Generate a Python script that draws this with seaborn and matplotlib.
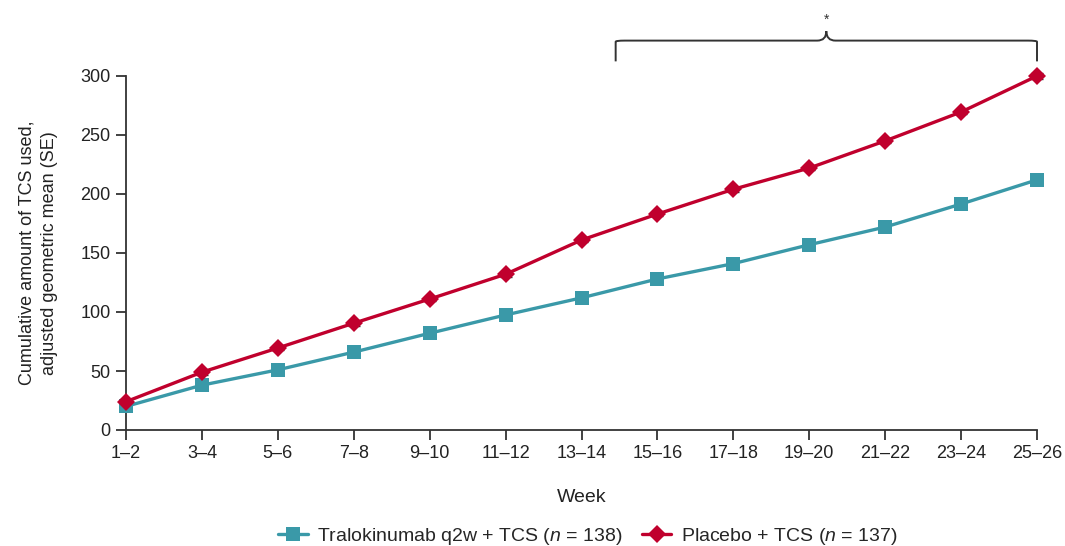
import matplotlib
matplotlib.use("Agg")
import matplotlib.pyplot as plt
import seaborn as sns
import pandas as pd
import numpy as np
from matplotlib.path import Path
from matplotlib.patches import PathPatch

weeks = ["1–2", "3–4", "5–6", "7–8", "9–10", "11–12", "13–14",
         "15–16", "17–18", "19–20", "21–22", "23–24", "25–26"]
tralo = [20, 38, 51, 66, 82, 97.5, 112, 128, 141, 157, 172, 191.5, 212]
placebo = [24, 49, 69.5, 90.5, 111, 132, 161, 183, 204, 222, 245, 269.5, 300]
tralo_se = [2, 2, 2, 2, 2, 2, 2, 2, 2, 2, 2, 2, 2.5]
placebo_se = [2, 2, 2, 2, 2, 2, 2, 2, 2, 2, 2, 2, 2.5]
yticks = [0, 50, 100, 150, 200, 250, 300]

sns.set_theme(style="ticks")
plt.rcParams['font.family'] = ['Liberation Sans', 'DejaVu Sans']
plt.rcParams['mathtext.fontset'] = 'custom'
plt.rcParams['mathtext.it'] = 'Liberation Sans:italic'
plt.rcParams['mathtext.rm'] = 'Liberation Sans'

teal = "#3a99a8"
red = "#c0002d"
txt = "#222222"

fig = plt.figure(figsize=(10.65, 5.46), dpi=100)
ax = fig.add_axes([126/1065, 1-430/546, (1037-126)/1065, (430-76)/546])

xs = np.arange(len(weeks))
df_t = pd.DataFrame({"x": xs, "y": tralo})
df_p = pd.DataFrame({"x": xs, "y": placebo})

eb1 = ax.errorbar(xs, tralo, yerr=tralo_se, fmt="none", ecolor="#333333",
                  elinewidth=1, capsize=4, zorder=1)
eb2 = ax.errorbar(xs, placebo, yerr=placebo_se, fmt="none", ecolor="#333333",
                  elinewidth=1, capsize=4, zorder=1)
for eb in (eb1, eb2):
    for art in eb.lines[1] + eb.lines[2]:
        art.set_clip_on(False)

sns.lineplot(data=df_t, x="x", y="y", ax=ax, color=teal, marker="s",
             markersize=9.5, markeredgewidth=0, linewidth=2.4,
             label="Tralokinumab q2w + TCS ($\\mathit{n}$ = 138)", zorder=3,
             clip_on=False)
sns.lineplot(data=df_p, x="x", y="y", ax=ax, color=red, marker="D",
             markersize=9, markeredgewidth=0, linewidth=2.4,
             label="Placebo + TCS ($\\mathit{n}$ = 137)", zorder=4,
             clip_on=False)

ax.set_xlim(0, 12)
ax.set_ylim(0, 300)
ax.set_xticks(xs)
ax.set_xticklabels(weeks, fontsize=13, color=txt)
ax.set_yticks(yticks)
ax.set_yticklabels([str(v) for v in yticks], fontsize=13, color=txt)
ax.tick_params(direction="out", length=7, width=1.3, color="#333333", pad=4)
for s in ["top", "right"]:
    ax.spines[s].set_visible(False)
for s in ["left", "bottom"]:
    ax.spines[s].set_linewidth(1.3)
    ax.spines[s].set_color("#333333")

ax.set_xlabel("Week", fontsize=14, color=txt, labelpad=19)
ax.set_ylabel("Cumulative amount of TCS used,\nadjusted geometric mean (SE)",
              fontsize=13, color=txt, labelpad=16, linespacing=1.45)

ax.get_legend().remove()
handles, labels = ax.get_legend_handles_labels()
fig.legend(handles, labels, loc="center", bbox_to_anchor=(0.552, 0.017),
           ncol=2, frameon=False, fontsize=14, handlelength=1.5,
           columnspacing=1.0, handletextpad=0.5)

# brace over weeks 15-26
x0, x1 = 6.45, 12.0
xm = (x0 + x1) / 2
yb = 330
h = 8
r = 0.12
verts = [
    (x0, yb - h * 2.2), (x0, yb - 1), (x0, yb), (x0 + r, yb),
    (xm - r, yb), (xm, yb), (xm, yb + h),
    (xm, yb), (xm + r, yb),
    (x1 - r, yb), (x1, yb), (x1, yb - 1), (x1, yb - h * 2.2),
]
codes = [Path.MOVETO, Path.LINETO, Path.CURVE3, Path.CURVE3,
         Path.LINETO, Path.CURVE3, Path.CURVE3,
         Path.CURVE3, Path.CURVE3,
         Path.LINETO, Path.CURVE3, Path.CURVE3, Path.LINETO]
patch = PathPatch(Path(verts, codes), facecolor="none", edgecolor="#333333",
                  lw=1.4, clip_on=False)
ax.add_patch(patch)
ax.text(xm, yb + h + 4, "*", ha="center", va="bottom", fontsize=10,
        color="#333333", clip_on=False)

fig.savefig("out.png", dpi=100)
